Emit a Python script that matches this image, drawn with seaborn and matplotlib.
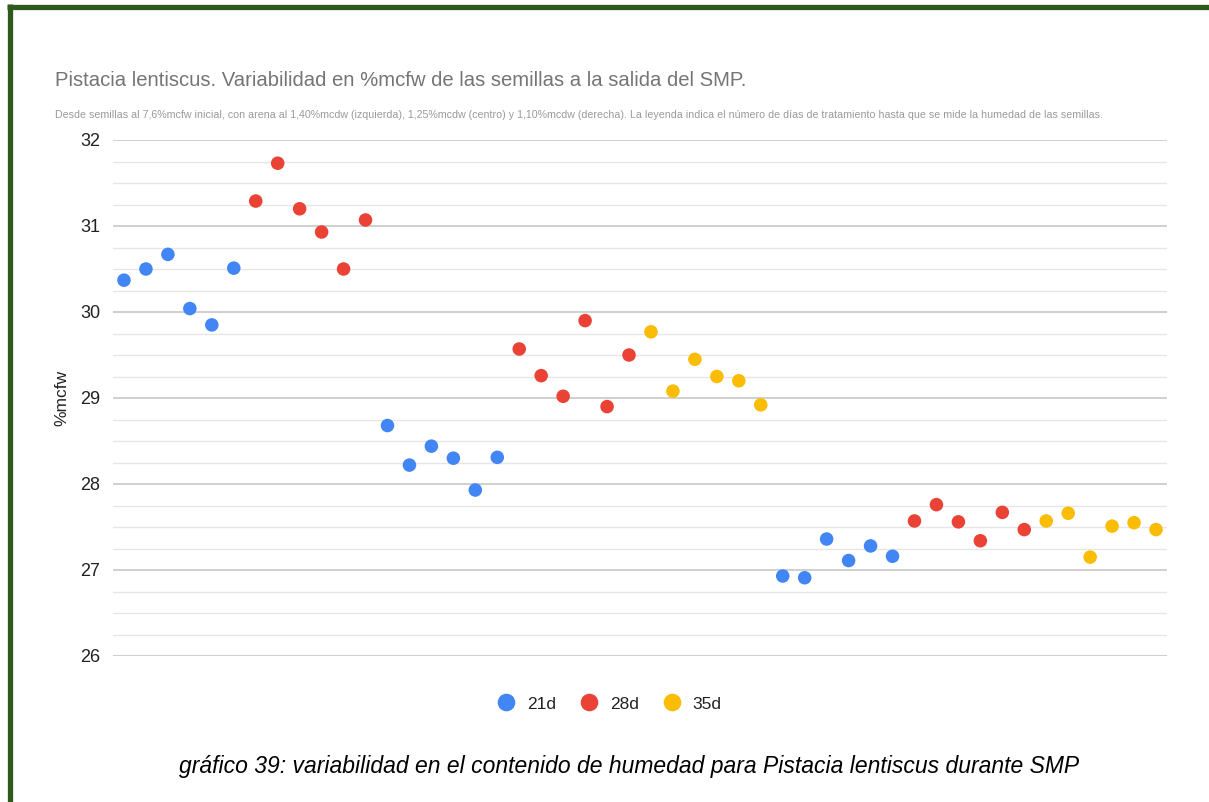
import matplotlib
matplotlib.use("Agg")
import matplotlib.pyplot as plt
from matplotlib.lines import Line2D
from matplotlib.ticker import MultipleLocator
import numpy as np
import pandas as pd
import seaborn as sns

# Seed moisture (%mcfw) at the exit of SMP, in run order; each block of six seeds
# belongs to one treatment length.
block_series = ["21d", "28d", "21d", "28d", "35d", "21d", "28d", "35d"]
block_values = [
    [30.37, 30.50, 30.67, 30.04, 29.85, 30.51],
    [31.29, 31.73, 31.20, 30.93, 30.50, 31.07],
    [28.68, 28.22, 28.44, 28.30, 27.93, 28.31],
    [29.57, 29.26, 29.02, 29.90, 28.90, 29.50],
    [29.77, 29.08, 29.45, 29.25, 29.20, 28.92],
    [26.93, 26.91, 27.36, 27.11, 27.28, 27.16],
    [27.57, 27.76, 27.56, 27.34, 27.67, 27.47],
    [27.57, 27.66, 27.15, 27.51, 27.55, 27.47],
]
series_order = ["21d", "28d", "35d"]
series_colors = ["#4285F4", "#EA4335", "#FBBC04"]

title = "Pistacia lentiscus. Variabilidad en %mcfw de las semillas a la salida del SMP."
subtitle = ("Desde semillas al 7,6%mcfw inicial, con arena al 1,40%mcdw (izquierda), 1,25%mcdw (centro) "
            "y 1,10%mcdw (derecha). La leyenda indica el número de días de tratamiento hasta que se mide "
            "la humedad de las semillas.")
caption = "gráfico 39: variabilidad en el contenido de humedad para Pistacia lentiscus durante SMP"
y_label = "%mcfw"

rows = []
for serie, vals in zip(block_series, block_values):
    for v in vals:
        rows.append({"muestra": len(rows), "mcfw": v, "serie": serie})
df = pd.DataFrame(rows)

sns.set_theme(style="white")
plt.rcParams["font.family"] = ["Liberation Sans", "DejaVu Sans"]

W, H = 1209, 802
fig = plt.figure(figsize=(W / 100, H / 100), dpi=100)
fig.patch.set_facecolor("white")
ax = fig.add_axes([113 / W, 1 - 656 / H, (1167 - 113) / W, (656 - 140) / H])

sns.scatterplot(data=df, x="muestra", y="mcfw", hue="serie", hue_order=series_order,
                palette=series_colors, s=95, edgecolor="none", linewidth=0, ax=ax, zorder=3)

ax.set_xlim(-0.5, len(df) - 0.5)
ax.set_ylim(26, 32)
ax.yaxis.set_major_locator(MultipleLocator(1))
ax.yaxis.set_minor_locator(MultipleLocator(0.25))
ax.grid(which="major", axis="y", color="#cccccc", linewidth=1.3, zorder=0)
ax.grid(which="minor", axis="y", color="#e6e6e6", linewidth=1.0, zorder=0)
ax.set_xticks([])
ax.set_xlabel("")
ax.set_ylabel(y_label, fontsize=12.5, color="#222222", labelpad=8)
ax.tick_params(axis="y", which="both", length=0, labelsize=13, labelcolor="#222222", pad=9)
for s in ax.spines.values():
    s.set_visible(False)

sns.move_legend(ax, "center", bbox_to_anchor=(607 / W, 1 - 704 / H),
                bbox_transform=fig.transFigure, ncol=3, frameon=False, title=None,
                fontsize=12.5, markerscale=1.3, handlelength=1.6, handletextpad=0.4,
                columnspacing=1.1)
for t in ax.get_legend().get_texts():
    t.set_color("#222222")

fig.text(55 / W, 1 - 86 / H, title, fontsize=14.6, color="#757575", ha="left", va="baseline")
fig.text(55 / W, 1 - 118 / H, subtitle, fontsize=7.7, color="#9a9a9a", ha="left", va="baseline")
fig.text(629 / W, 1 - 773 / H, caption, fontsize=16.5, style="italic", color="#000000",
         ha="center", va="baseline")

# Dark green frame along the top and the left edge
green = "#2f5a1e"
fig.add_artist(Line2D([7 / W, 1], [1 - 6.5 / H, 1 - 6.5 / H], transform=fig.transFigure,
                      color=green, linewidth=3.8, solid_capstyle="butt"))
fig.add_artist(Line2D([9.5 / W, 9.5 / W], [0, 1 - 4 / H], transform=fig.transFigure,
                      color=green, linewidth=3.8, solid_capstyle="butt"))

fig.savefig("out.png", dpi=100)
